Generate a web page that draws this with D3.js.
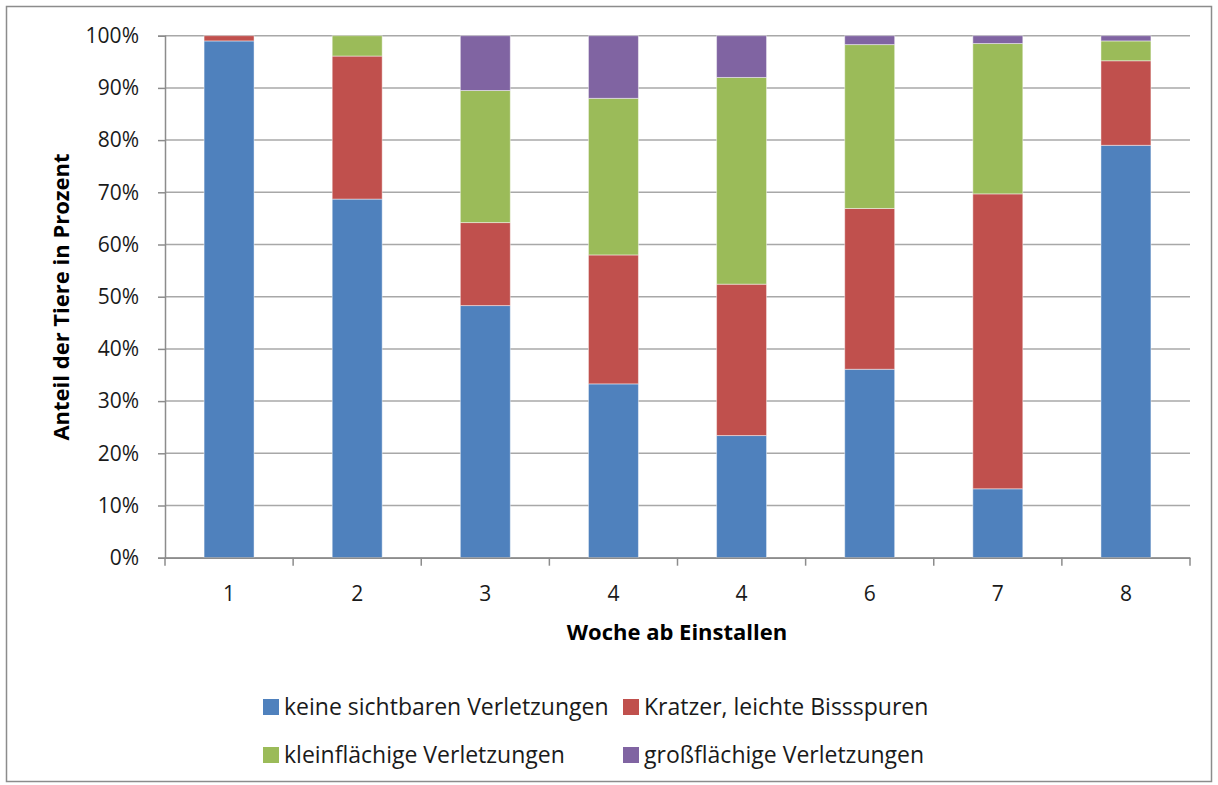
<!DOCTYPE html>
<html><head><meta charset="utf-8">
<script src="https://cdn.jsdelivr.net/npm/d3@7"></script>
<style>body{margin:0;background:#fff;font-family:"Open Sans",sans-serif;}</style>
</head><body>
<svg id="c" width="1218" height="785"></svg>
<script>
const categories = ["1","2","3","4","4","6","7","8"];
const seriesNames = ["keine sichtbaren Verletzungen","Kratzer, leichte Bissspuren","kleinflächige Verletzungen","großflächige Verletzungen"];
const keine   = [99.0, 68.7, 48.3, 33.3, 23.4, 36.1, 13.2, 79.0];
const kratzer = [1.0, 27.4, 15.9, 24.7, 29.0, 30.8, 56.5, 16.2];
const klein   = [0.0, 3.9, 25.3, 30.0, 39.6, 31.4, 28.8, 3.8];
const gross   = [0.0, 0.0, 10.5, 12.0, 8.0, 1.7, 1.5, 1.0];
const yTicks = [0,10,20,30,40,50,60,70,80,90,100];
const colors = ["#4f81bd","#c0504d","#9bbb59","#8064a2"];

(function(){
const FONT = "'Open Sans',sans-serif";
const svg = d3.select("#c").attr("font-family",FONT);
svg.append("rect").attr("x",6.5).attr("y",6.5).attr("width",1205).attr("height",775)
  .attr("fill","#fff").attr("stroke","#8c8c8c").attr("stroke-width",1.5);

const pL=165, pR=1190, pT=35.7, pB=557.7;
const idx = categories.map((c,i)=>i);
const x = d3.scaleBand().domain(idx).range([pL,pR]).paddingInner(0.61).paddingOuter(0.305);
const xb = d3.scaleBand().domain(idx).range([pL,pR]).padding(0);
const y = d3.scaleLinear().domain([0,100]).range([pB,pT]);

svg.append("g").selectAll("line").data(yTicks).join("line")
  .attr("x1",pL).attr("x2",pR).attr("y1",d=>y(d)).attr("y2",d=>y(d))
  .attr("stroke","#a8a8a8").attr("stroke-width",1.5);

const rows = idx.map(i=>({i, k0:keine[i], k1:kratzer[i], k2:klein[i], k3:gross[i]}));
const stack = d3.stack().keys(["k0","k1","k2","k3"])(rows);
svg.append("g").selectAll("g").data(stack).join("g")
  .attr("fill",(d,j)=>colors[j])
  .selectAll("rect").data(d=>d.filter(p=>p[1]-p[0]>0)).join("rect")
  .attr("x",d=>x(d.data.i)).attr("width",x.bandwidth())
  .attr("y",d=>y(d[1])).attr("height",d=>y(d[0])-y(d[1]))
  .attr("stroke","rgba(255,255,255,0.45)").attr("stroke-width",1);

const ya = svg.append("g").attr("transform",`translate(${pL},0)`)
  .call(d3.axisLeft(y).tickValues(yTicks).tickFormat(d=>d+"%").tickSize(7).tickPadding(19));
ya.select(".domain").attr("stroke","#8c8c8c").attr("stroke-width",1.5);
ya.selectAll(".tick line").attr("stroke","#8c8c8c").attr("stroke-width",1.5);
ya.selectAll("text").attr("font-size",21).attr("fill","#1a1a1a").attr("font-family",FONT);

const xa = svg.append("g").attr("transform",`translate(0,${pB})`)
  .call(d3.axisBottom(xb).tickFormat(i=>categories[i]).tickSize(0).tickPadding(28));
xa.select(".domain").attr("stroke","#8c8c8c").attr("stroke-width",1.5);
xa.selectAll("text").attr("font-size",21).attr("fill","#1a1a1a").attr("font-family",FONT);
const bounds = idx.map(i=>xb(i)).concat([pR]);
svg.append("g").selectAll("line").data(bounds).join("line")
  .attr("x1",d=>d).attr("x2",d=>d).attr("y1",pB).attr("y2",pB+8)
  .attr("stroke","#8c8c8c").attr("stroke-width",1.5);

svg.append("text").attr("transform",`translate(69,297) rotate(-90)`).attr("text-anchor","middle")
  .attr("font-weight","bold").attr("font-size",22).text("Anteil  der Tiere in Prozent");
svg.append("text").attr("x",677).attr("y",640).attr("text-anchor","middle")
  .attr("font-weight","bold").attr("font-size",22).text("Woche ab Einstallen");

const legPos = [[263,707],[623,707],[263,755],[623,755]];
const lg = svg.append("g").selectAll("g").data(seriesNames).join("g")
  .attr("transform",(d,j)=>`translate(${legPos[j][0]},${legPos[j][1]})`);
lg.append("rect").attr("x",0).attr("y",-8).attr("width",16).attr("height",16).attr("fill",(d,j)=>colors[j]);
lg.append("text").attr("x",21).attr("y",8).attr("font-size",23).attr("fill","#1a1a1a").text(d=>d);
})();
</script>
</body></html>
